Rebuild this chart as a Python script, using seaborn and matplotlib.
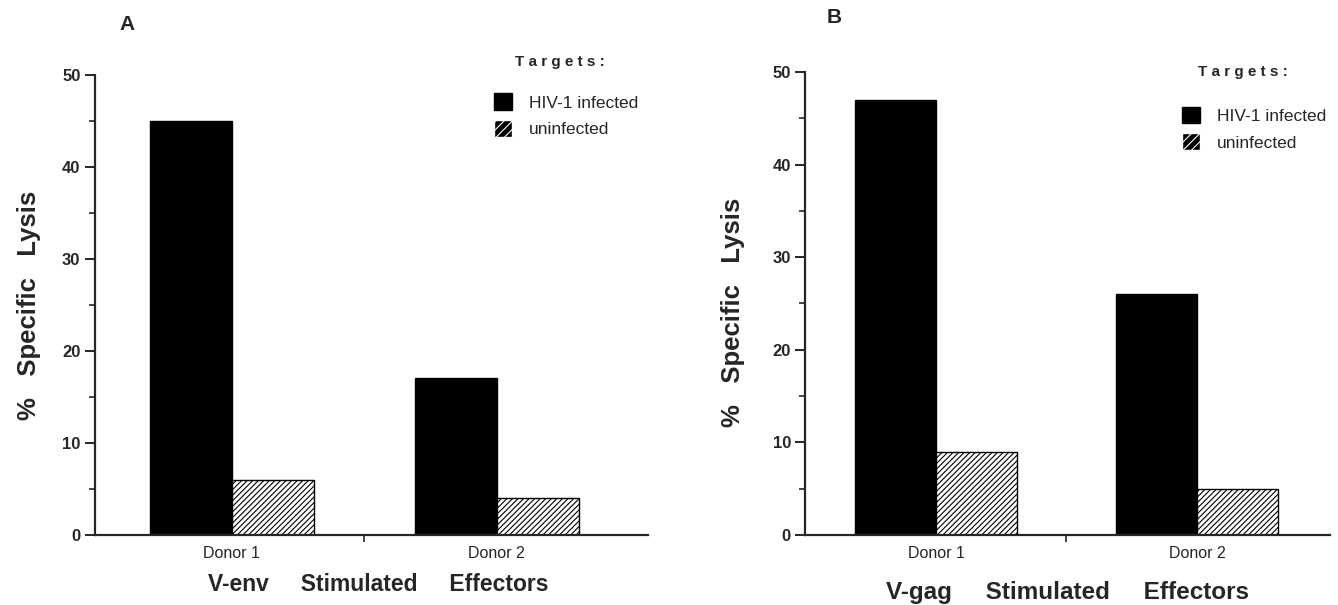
import matplotlib

matplotlib.use("Agg", force=True)
import matplotlib.pyplot as plt
import pandas as pd
import seaborn as sns
from matplotlib.patches import Patch
from matplotlib.ticker import MultipleLocator

DONORS = ["Donor 1", "Donor 2"]
TARGETS = ["HIV-1 infected", "uninfected"]
ENV_INFECTED = [45, 17]
ENV_UNINFECTED = [6, 4]
GAG_INFECTED = [47, 26]
GAG_UNINFECTED = [9, 5]


def make_frame(infected, uninfected) -> pd.DataFrame:
    rows = []
    for donor, a, b in zip(DONORS, infected, uninfected):
        rows.append({"donor": donor, "target": TARGETS[0], "lysis": a})
        rows.append({"donor": donor, "target": TARGETS[1], "lysis": b})
    return pd.DataFrame(rows)


def draw_panel(ax, df, letter, xlabel, xlim, layout) -> None:
    sns.barplot(data=df, x="donor", y="lysis", hue="target", hue_order=TARGETS,
                palette=["black", "white"], width=0.62, edgecolor="black",
                linewidth=1.0, saturation=1, legend=False, ax=ax)
    for bar in ax.containers[1]:
        bar.set_hatch("//////")
    ax.set_xlim(*xlim)
    ax.set_ylim(0, 50)
    ax.yaxis.set_major_locator(MultipleLocator(10))
    ax.yaxis.set_minor_locator(MultipleLocator(5))
    ax.set_xticks([0.5], minor=True)
    sns.despine(ax=ax)
    ax.spines["left"].set_linewidth(1.6)
    ax.spines["bottom"].set_linewidth(1.6)
    ax.tick_params(axis="y", which="major", length=7, width=1.4, labelsize=12)
    ax.tick_params(axis="y", which="minor", length=4, width=1.2)
    ax.tick_params(axis="x", which="major", length=0, pad=8, labelsize=11.5)
    ax.tick_params(axis="x", which="minor", length=5, width=1.2)
    for lab in ax.get_yticklabels():
        lab.set_fontweight("bold")

    ax.set_ylabel("%   Specific   Lysis", fontsize=18.5, fontweight="bold")
    ax.yaxis.set_label_coords(*layout["ylab"])
    ax.set_xlabel("V-" + xlabel + "     Stimulated     Effectors",
                  fontsize=layout["xsize"], fontweight="bold")
    ax.xaxis.set_label_coords(*layout["xlab"])

    ax.text(*layout["letter"], letter, transform=ax.transAxes, fontsize=15,
            fontweight="bold", ha="left", va="center")
    ax.text(*layout["title"], "T a r g e t s :", transform=ax.transAxes,
            fontsize=11, fontweight="bold", ha="left", va="center")
    handles = [
        Patch(facecolor="black", edgecolor="black", label=TARGETS[0]),
        Patch(facecolor="black", edgecolor="white", hatch="////", label=TARGETS[1]),
    ]
    ax.legend(handles=handles, loc="upper left", bbox_to_anchor=layout["legend"],
              frameon=False, fontsize=12.5, handlelength=1.0, handleheight=1.1,
              handletextpad=1.0, labelspacing=0.55, borderaxespad=0)


def main() -> None:
    sns.set_theme(style="ticks")
    plt.rcParams["font.family"] = ["Liberation Sans", "DejaVu Sans"]
    plt.rcParams["hatch.linewidth"] = 0.8

    fig = plt.figure(figsize=(13.38, 6.05), dpi=100)
    ax_a = fig.add_axes([0.071, 0.116, 0.413, 0.760])
    ax_b = fig.add_axes([0.602, 0.116, 0.392, 0.765])

    draw_panel(ax_a, make_frame(ENV_INFECTED, ENV_UNINFECTED), "A", "env",
               (-0.517, 1.57),
               {"ylab": (-0.098, 0.50), "xlab": (0.512, -0.082), "xsize": 16.5,
                "letter": (0.045, 1.109), "title": (0.76, 1.028),
                "legend": (0.71, 0.975)})
    draw_panel(ax_b, make_frame(GAG_INFECTED, GAG_UNINFECTED), "B", "gag",
               (-0.50, 1.51),
               {"ylab": (-0.115, 0.48), "xlab": (0.50, -0.10), "xsize": 17.5,
                "letter": (0.04, 1.117), "title": (0.748, 1.0),
                "legend": (0.705, 0.94)})

    fig.savefig("out.png", dpi=100)
    plt.close(fig)


if __name__ == "__main__":
    main()
